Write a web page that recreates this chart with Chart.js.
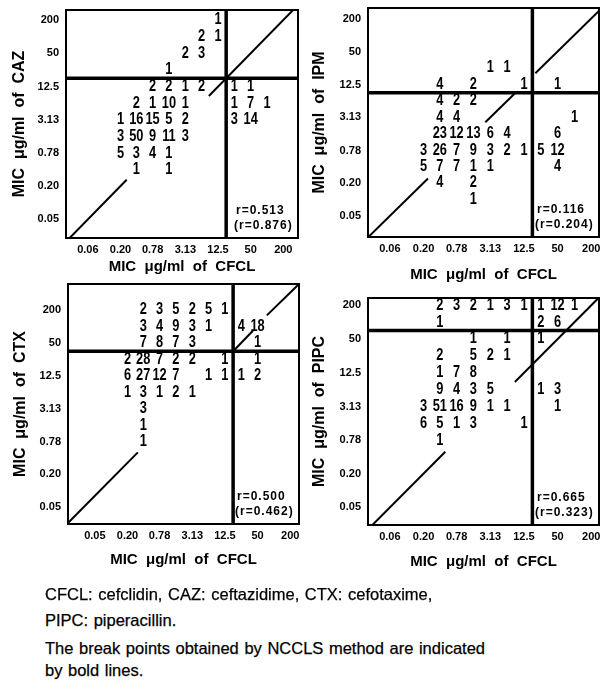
<!DOCTYPE html>
<html>
<head>
<meta charset="utf-8">
<script src="https://cdn.jsdelivr.net/npm/chart.js@4.4.1/dist/chart.umd.min.js"></script>
<style>
  body { margin: 0; background: #fff; width: 601px; height: 682px; position: relative; overflow: hidden; }
  canvas { position: absolute; }
  .cap { position: absolute; left: 45px; font: 16.5px "Liberation Sans", Arial, sans-serif; color: #000; line-height: 18px; white-space: nowrap; word-spacing: 1px; -webkit-text-stroke: 0.25px #000; }
</style>
</head>
<body>
<canvas id="caz" width="300" height="290" style="left:0;top:0"></canvas>
<canvas id="ipm" width="301" height="290" style="left:300px;top:0"></canvas>
<canvas id="ctx" width="300" height="300" style="left:0;top:282px"></canvas>
<canvas id="pipc" width="301" height="300" style="left:300px;top:282px"></canvas>
<div class="cap" style="top:585px">CFCL: cefclidin, CAZ: ceftazidime, CTX: cefotaxime,</div>
<div class="cap" style="top:611px">PIPC: piperacillin.</div>
<div class="cap" style="top:639px">The break points obtained by NCCLS method are indicated</div>
<div class="cap" style="top:661px">by bold lines.</div>
<script>
// tick values (MIC, µg/ml) and their printed labels
const tickVals = [0.05, 0.20, 0.78, 3.13, 12.5, 50, 200];
const yLabels = ['0.05', '0.20', '0.78', '3.13', '12.5', '50', '200'];
const xLabels = ['0.06', '0.20', '0.78', '3.13', '12.5', '50', '200'];
const xLabelsCtx = ['0.05', '0.20', '0.78', '3.13', '12.5', '50', '200'];

// cells: [MIC of CFCL, MIC of comparator, number of strains]
const cazCells = [
  [12.5, 200, 1],
  [6.25, 100, 2], [12.5, 100, 1],
  [3.13, 50, 2], [6.25, 50, 3],
  [1.56, 25, 1],
  [0.78, 12.5, 2], [1.56, 12.5, 2], [3.13, 12.5, 1], [6.25, 12.5, 2], [25, 12.5, 1], [50, 12.5, 1],
  [0.39, 6.25, 2], [0.78, 6.25, 1], [1.56, 6.25, 10], [3.13, 6.25, 1], [25, 6.25, 1], [50, 6.25, 7], [100, 6.25, 1],
  [0.20, 3.13, 1], [0.39, 3.13, 16], [0.78, 3.13, 15], [1.56, 3.13, 5], [3.13, 3.13, 2], [25, 3.13, 3], [50, 3.13, 14],
  [0.20, 1.56, 3], [0.39, 1.56, 50], [0.78, 1.56, 9], [1.56, 1.56, 11], [3.13, 1.56, 3],
  [0.20, 0.78, 5], [0.39, 0.78, 3], [0.78, 0.78, 4], [1.56, 0.78, 1],
  [0.39, 0.39, 1], [1.56, 0.39, 1]
];
const ipmCells = [
  [3.13, 25, 1], [6.25, 25, 1],
  [0.39, 12.5, 4], [1.56, 12.5, 2], [12.5, 12.5, 1], [50, 12.5, 1],
  [0.39, 6.25, 4], [0.78, 6.25, 2], [1.56, 6.25, 2],
  [0.39, 3.13, 4], [0.78, 3.13, 4], [100, 3.13, 1],
  [0.39, 1.56, 23], [0.78, 1.56, 12], [1.56, 1.56, 13], [3.13, 1.56, 6], [6.25, 1.56, 4], [50, 1.56, 6],
  [0.20, 0.78, 3], [0.39, 0.78, 26], [0.78, 0.78, 7], [1.56, 0.78, 9], [3.13, 0.78, 3], [6.25, 0.78, 2], [12.5, 0.78, 1], [25, 0.78, 5], [50, 0.78, 12],
  [0.20, 0.39, 5], [0.39, 0.39, 7], [0.78, 0.39, 7], [1.56, 0.39, 1], [3.13, 0.39, 1], [50, 0.39, 4],
  [0.39, 0.20, 4], [1.56, 0.20, 2],
  [1.56, 0.10, 1]
];
const ctxCells = [
  [0.39, 200, 2], [0.78, 200, 3], [1.56, 200, 5], [3.13, 200, 2], [6.25, 200, 5], [12.5, 200, 1],
  [0.39, 100, 3], [0.78, 100, 4], [1.56, 100, 9], [3.13, 100, 3], [6.25, 100, 1], [25, 100, 4], [50, 100, 18],
  [0.39, 50, 7], [0.78, 50, 8], [1.56, 50, 7], [3.13, 50, 3], [50, 50, 1],
  [0.20, 25, 2], [0.39, 25, 28], [0.78, 25, 7], [1.56, 25, 2], [3.13, 25, 2], [12.5, 25, 1], [50, 25, 1],
  [0.20, 12.5, 6], [0.39, 12.5, 27], [0.78, 12.5, 12], [1.56, 12.5, 7], [6.25, 12.5, 1], [12.5, 12.5, 1], [25, 12.5, 1], [50, 12.5, 2],
  [0.20, 6.25, 1], [0.39, 6.25, 3], [0.78, 6.25, 1], [1.56, 6.25, 2], [3.13, 6.25, 1],
  [0.39, 3.13, 3],
  [0.39, 1.56, 1],
  [0.39, 0.78, 1]
];
const pipcCells = [
  [0.39, 200, 2], [0.78, 200, 3], [1.56, 200, 2], [3.13, 200, 1], [6.25, 200, 3], [12.5, 200, 1], [25, 200, 1], [50, 200, 12], [100, 200, 1],
  [0.39, 100, 1], [25, 100, 2], [50, 100, 6],
  [1.56, 50, 1], [6.25, 50, 1], [25, 50, 1],
  [0.39, 25, 2], [1.56, 25, 5], [3.13, 25, 2], [6.25, 25, 1],
  [0.39, 12.5, 1], [0.78, 12.5, 7], [1.56, 12.5, 8],
  [0.39, 6.25, 9], [0.78, 6.25, 4], [1.56, 6.25, 3], [3.13, 6.25, 5], [25, 6.25, 1], [50, 6.25, 3],
  [0.20, 3.13, 3], [0.39, 3.13, 51], [0.78, 3.13, 16], [1.56, 3.13, 9], [3.13, 3.13, 1], [6.25, 3.13, 1], [50, 3.13, 1],
  [0.20, 1.56, 6], [0.39, 1.56, 5], [0.78, 1.56, 1], [1.56, 1.56, 3], [12.5, 1.56, 1],
  [0.39, 0.78, 1]
];

// break points (bold lines) [CFCL, comparator]
const cazBreak = [17.7, 17.7];
const ipmBreak = [17.7, 8.84];
const ctxBreak = [17.7, 35.4];
const pipcBreak = [17.7, 70.7];

// diagonal pieces [x1, y1, x2, y2]
const cazDiag = [[0.01, 0.01, 0.26, 0.26], [8.5, 8.5, 1000, 1000]];
const ipmDiag = [[0.01, 0.01, 0.24, 0.24], [2.55, 2.55, 9.2, 9.2], [20, 20, 1000, 1000]];
const ctxDiag = [[0.016, 0.026, 0.31, 0.505], [17.7, 35.4, 41, 84], [74, 160, 290, 598]];
const pipcDiag = [[0.01, 0.01, 0.49, 0.49], [8.6, 8.6, 1000, 1000]];

// correlation coefficients
const cazR = ['r=0.513', '(r=0.876)'];
const ipmR = ['r=0.116', '(r=0.204)'];
const ctxR = ['r=0.500', '(r=0.462)'];
const pipcR = ['r=0.665', '(r=0.323)'];

const narrow = '"Liberation Sans Narrow", "Liberation Sans", Arial, sans-serif';
const sans = '"Liberation Sans", Arial, sans-serif';

function panel(id, o) {
  const lines = [];
  lines.push({ data: [{ x: o.brk[0], y: o.y[0] }, { x: o.brk[0], y: o.y[1] }], borderWidth: 3.5 });
  lines.push({ data: [{ x: o.x[0], y: o.brk[1] }, { x: o.x[1], y: o.brk[1] }], borderWidth: 3.5 });
  o.diag.forEach(d => lines.push({ data: [{ x: d[0], y: d[1] }, { x: d[2], y: d[3] }], borderWidth: 2 }));
  lines.forEach(l => Object.assign(l, { showLine: true, borderColor: '#000', pointRadius: 0, fill: false }));

  const labels = {
    id: 'labels',
    afterDatasetsDraw(chart) {
      const c = chart.ctx, a = chart.chartArea;
      c.save();
      c.strokeStyle = '#000';
      c.lineWidth = 2;
      c.strokeRect(a.left, a.top, a.right - a.left, a.bottom - a.top);
      c.fillStyle = '#000';
      c.textAlign = 'center';
      c.textBaseline = 'middle';
      c.font = 'bold 16px ' + narrow;
      chart.getDatasetMeta(0).data.forEach((el, i) => {
        c.save();
        c.translate(el.x, el.y);
        c.scale(0.8, 1);
        c.fillText(String(o.cells[i][2]), 0, 0);
        c.restore();
      });
      c.textAlign = 'left';
      c.font = 'bold 12px ' + sans;
      c.letterSpacing = '1px';
      c.fillText(o.r[0], a.right - 62, a.bottom - 27);
      c.fillText(o.r[1], a.right - 64, a.bottom - 12);
      c.restore();
    }
  };

  const noPad = s => { s.paddingTop = 0; s.paddingBottom = 0; s.paddingLeft = 0; s.paddingRight = 0; };

  new Chart(document.getElementById(id), {
    type: 'scatter',
    data: {
      datasets: [
        { data: o.cells.map(c => ({ x: c[0], y: c[1] })), pointRadius: 0 },
        ...lines
      ]
    },
    options: {
      responsive: false,
      animation: false,
      events: [],
      layout: { padding: { top: o.area[1], right: o.w - o.area[2], left: 0, bottom: 0 } },
      plugins: { legend: { display: false }, tooltip: { enabled: false } },
      scales: {
        x: {
          type: 'logarithmic', min: o.x[0], max: o.x[1],
          grid: { display: false, drawTicks: false },
          border: { display: false },
          afterBuildTicks: s => { s.ticks = tickVals.map(v => ({ value: v })); },
          afterFit: s => { s.height = o.h - o.area[3]; noPad(s); },
          ticks: { autoSkip: false, maxRotation: 0, padding: 5, color: '#000',
                   font: { family: narrow, size: 11, weight: 'bold' },
                   callback: (v, i) => o.xLab[i] },
          title: { display: true, text: 'MIC  μg/ml  of  CFCL', color: '#000',
                   font: { family: sans, size: 15, weight: 'bold' },
                   padding: { top: 0, bottom: o.xt } }
        },
        y: {
          type: 'logarithmic', min: o.y[0], max: o.y[1],
          grid: { display: false, drawTicks: false },
          border: { display: false },
          afterBuildTicks: s => { s.ticks = tickVals.map(v => ({ value: v })); },
          afterFit: s => { s.width = o.area[0]; noPad(s); },
          ticks: { autoSkip: false, padding: 7, color: '#000',
                   font: { family: narrow, size: 11, weight: 'bold' },
                   callback: (v, i) => yLabels[i] },
          title: { display: true, text: o.yTitle, color: '#000',
                   font: { family: sans, size: 16, weight: 'bold' },
                   padding: { top: o.yt, bottom: 0 } }
        }
      }
    },
    plugins: [labels]
  });
}

panel('caz', { w: 300, h: 290, area: [66, 10, 298, 238], x: [0.0198, 373], y: [0.0231, 303],
  cells: cazCells, brk: cazBreak, diag: cazDiag, r: cazR, xLab: xLabels,
  yTitle: 'MIC  μg/ml  of  CAZ', xt: 14, yt: 10 });
panel('ipm', { w: 301, h: 290, area: [68, 8, 299, 237], x: [0.0203, 275], y: [0.0206, 311],
  cells: ipmCells, brk: ipmBreak, diag: ipmDiag, r: ipmR, xLab: xLabels,
  yTitle: 'MIC  μg/ml  of  IPM', xt: 6, yt: 10 });
panel('ctx', { w: 300, h: 300, area: [68, 2, 299, 242], x: [0.016, 290], y: [0.0249, 598],
  cells: ctxCells, brk: ctxBreak, diag: ctxDiag, r: ctxR, xLab: xLabelsCtx,
  yTitle: 'MIC  μg/ml  of  CTX', xt: 13, yt: 11 });
panel('pipc', { w: 301, h: 300, area: [68, 16, 299, 243], x: [0.0203, 275], y: [0.0243, 269],
  cells: pipcCells, brk: pipcBreak, diag: pipcDiag, r: pipcR, xLab: xLabels,
  yTitle: 'MIC  μg/ml  of  PIPC', xt: 11, yt: 10 });
</script>
</body>
</html>
